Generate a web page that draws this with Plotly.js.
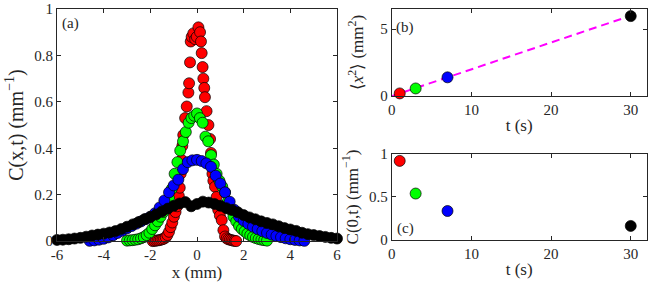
<!DOCTYPE html>
<html>
<head>
<meta charset="utf-8">
<script src="https://cdn.plot.ly/plotly-3.0.1.min.js"></script>
<style>html,body{margin:0;padding:0;background:#fff}#chart{width:654px;height:286px}</style>
</head>
<body>
<div id="chart"></div>
<script>
// ---- Data: C(x,t) profiles (panel a) ----
const redX = [-1.90,-1.83,-1.76,-1.69,-1.62,-1.55,-1.48,-1.41,-1.34,-1.27,-1.20,-1.13,-1.06,-0.99,-0.92,-0.85,-0.78,-0.74,-0.70,-0.66,-0.63,-0.59,-0.51,-0.44,-0.37,-0.34,-0.30,-0.27,-0.23,-0.16,-0.08,-0.01,0.06,0.13,0.17,0.20,0.24,0.27,0.31,0.34,0.41,0.49,0.56,0.60,0.63,0.66,0.70,0.77,0.84,0.91,0.98,1.06,1.13,1.20,1.27,1.34,1.41,1.48,1.55,1.62,1.68];
const redY = [0.000,0.001,0.002,0.003,0.004,0.006,0.008,0.011,0.016,0.026,0.040,0.060,0.080,0.105,0.125,0.150,0.195,0.230,0.290,0.350,0.410,0.457,0.530,0.580,0.640,0.680,0.770,0.860,0.880,0.895,0.870,0.880,0.921,0.900,0.860,0.810,0.750,0.700,0.660,0.620,0.560,0.500,0.440,0.380,0.330,0.290,0.260,0.234,0.190,0.134,0.110,0.090,0.047,0.020,0.012,0.008,0.006,0.004,0.002,0.001,0.000];

const greenX = [-3.00,-2.88,-2.76,-2.64,-2.52,-2.40,-2.28,-2.16,-2.04,-1.92,-1.80,-1.68,-1.56,-1.44,-1.32,-1.20,-1.08,-0.96,-0.84,-0.72,-0.60,-0.48,-0.36,-0.24,-0.12,0.00,0.12,0.24,0.36,0.48,0.60,0.72,0.84,0.96,1.08,1.20,1.32,1.44,1.56,1.68,1.80,1.92,2.04,2.16,2.28,2.40,2.52,2.64,2.76,2.88,3.00];
const greenY = [0.002,0.003,0.004,0.006,0.008,0.012,0.017,0.026,0.036,0.052,0.068,0.085,0.105,0.125,0.152,0.185,0.225,0.290,0.340,0.390,0.430,0.470,0.510,0.530,0.540,0.550,0.530,0.510,0.450,0.430,0.370,0.330,0.290,0.260,0.235,0.210,0.170,0.135,0.105,0.085,0.065,0.052,0.042,0.032,0.025,0.018,0.013,0.009,0.006,0.004,0.002];

const blueX = [-4.6,-4.4,-4.2,-4.0,-3.8,-3.6,-3.4,-3.2,-3.0,-2.8,-2.6,-2.4,-2.2,-2.0,-1.8,-1.6,-1.4,-1.2,-1.0,-0.8,-0.6,-0.4,-0.2,0.0,0.2,0.4,0.6,0.8,1.0,1.2,1.4,1.6,1.8,2.0,2.2,2.4,2.6,2.8,3.0,3.2,3.4,3.6,3.8,4.0,4.2,4.4,4.6];
const blueY = [0.001,0.003,0.006,0.010,0.016,0.025,0.035,0.045,0.055,0.065,0.075,0.085,0.095,0.105,0.120,0.145,0.175,0.210,0.240,0.265,0.310,0.340,0.348,0.350,0.345,0.335,0.320,0.282,0.248,0.210,0.170,0.135,0.105,0.088,0.074,0.062,0.052,0.043,0.035,0.028,0.022,0.017,0.012,0.008,0.005,0.003,0.001];

const blackX = [-6.00,-5.75,-5.50,-5.25,-5.00,-4.75,-4.50,-4.25,-4.00,-3.75,-3.50,-3.25,-3.00,-2.75,-2.50,-2.25,-2.00,-1.75,-1.50,-1.25,-1.00,-0.75,-0.50,-0.25,0.00,0.25,0.50,0.75,1.00,1.25,1.50,1.75,2.00,2.25,2.50,2.75,3.00,3.25,3.50,3.75,4.00,4.25,4.50,4.75,5.00,5.25,5.50,5.75,6.00];
const blackY = [0.005,0.006,0.008,0.011,0.014,0.019,0.024,0.028,0.032,0.037,0.043,0.052,0.062,0.072,0.082,0.094,0.104,0.115,0.128,0.140,0.152,0.162,0.168,0.150,0.160,0.170,0.166,0.160,0.152,0.142,0.134,0.124,0.112,0.102,0.094,0.085,0.078,0.072,0.064,0.056,0.050,0.044,0.036,0.030,0.026,0.022,0.018,0.014,0.011];

// ---- Data: panels (b) and (c) ----
const times = [1, 3, 7, 30];
const msd = [0.2, 0.57, 1.4, 5.97];
const peakC = [0.92, 0.54, 0.337, 0.163];
const seriesColors = ['#ff0000', '#00ff00', '#0000ff', '#000000'];
const fitT = [0, 30];
const fitMsd = [0, 6.0];

// ---- Tick labels ----
const xTickVals = [-6, -4, -2, 0, 2, 4, 6];
const xTickText = ['-6', '-4', '-2', '0', '2', '4', '6'];
const yTickVals = [0, 0.2, 0.4, 0.6, 0.8, 1];
const yTickText = ['0', '0.2', '0.4', '0.6', '0.8', '1'];
const tTickVals = [0, 10, 20, 30];
const msdTickVals = [0, 5];
const cTickVals = [0, 0.5, 1];
const cTickText = ['0', '0.5', '1'];

const FONT = 'Liberation Serif';
const AX = '#262626';

function prof(x, y, c) {
  return {x: x, y: y, type: 'scatter', mode: 'markers', xaxis: 'x', yaxis: 'y',
    cliponaxis: false,
    marker: {color: c, size: 11, line: {color: '#000', width: 0.7}}, showlegend: false, hoverinfo: 'skip'};
}

const traces = [
  prof(redX, redY, seriesColors[0]),
  prof(greenX, greenY, seriesColors[1]),
  prof(blueX, blueY, seriesColors[2]),
  prof(blackX, blackY, seriesColors[3]),
  {x: fitT, y: fitMsd, type: 'scatter', mode: 'lines', xaxis: 'x2', yaxis: 'y2',
    line: {color: '#ff00ff', width: 2, dash: '8px,5px'}, showlegend: false, hoverinfo: 'skip'},
  {x: times, y: msd, type: 'scatter', mode: 'markers', xaxis: 'x2', yaxis: 'y2', cliponaxis: false,
    marker: {color: seriesColors, size: 11, line: {color: '#000', width: 0.7}}, showlegend: false, hoverinfo: 'skip'},
  {x: times, y: peakC, type: 'scatter', mode: 'markers', xaxis: 'x3', yaxis: 'y3', cliponaxis: false,
    marker: {color: seriesColors, size: 11, line: {color: '#000', width: 0.7}}, showlegend: false, hoverinfo: 'skip'}
];

function axis(extra) {
  return Object.assign({
    showline: true, mirror: 'ticks', linecolor: AX, linewidth: 1,
    ticks: 'inside', ticklen: 4, tickcolor: AX, tickwidth: 1,
    showgrid: false, zeroline: false,
    tickfont: {family: FONT, size: 15, color: AX},
    automargin: false, fixedrange: true
  }, extra);
}

const TF = {family: FONT, size: 17, color: AX};
const TFA = {family: FONT, size: 20, color: AX};

const layout = {
  width: 654, height: 286,
  margin: {l: 0, r: 0, t: 0, b: 0},
  paper_bgcolor: '#fff', plot_bgcolor: '#fff',
  font: {family: FONT, color: AX},
  showlegend: false,
  xaxis: axis({domain: [0.0872, 0.5153], range: [-6, 6], anchor: 'y',
    tickmode: 'array', tickvals: xTickVals, ticktext: xTickText,
    title: {text: 'x (mm)', font: TF, standoff: 2}}),
  yaxis: axis({domain: [0.157, 0.9685], range: [0, 1], anchor: 'x',
    tickmode: 'array', tickvals: yTickVals, ticktext: yTickText,
    title: {text: 'C(x,t) (mm<sup>−1</sup>)', font: TFA, standoff: 5}}),
  xaxis2: axis({domain: [0.599, 0.9888], range: [0, 32], anchor: 'y2',
    tickmode: 'array', tickvals: tTickVals,
    title: {text: 't (s)', font: TF, standoff: 2}}),
  yaxis2: axis({domain: [0.664, 0.9685], range: [0, 6.5], anchor: 'x2',
    tickmode: 'array', tickvals: msdTickVals,
    title: {text: '⟨<i>x</i><sup>2</sup>⟩ (mm<sup>2</sup>)', font: TF, standoff: 12}}),
  xaxis3: axis({domain: [0.599, 0.9888], range: [0, 32], anchor: 'y3',
    tickmode: 'array', tickvals: tTickVals,
    title: {text: 't (s)', font: TF, standoff: 2}}),
  yaxis3: axis({domain: [0.161, 0.4615], range: [0, 1], anchor: 'x3',
    tickmode: 'array', tickvals: cTickVals, ticktext: cTickText,
    title: {text: 'C(0,t) (mm<sup>−1</sup>)', font: TF, standoff: 6}}),
  annotations: [
    {text: '(a)', xref: 'paper', yref: 'paper', x: 0.0917, y: 0.955, xanchor: 'left', yanchor: 'top', showarrow: false, font: {family: FONT, size: 15, color: AX}},
    {text: '(b)', xref: 'paper', yref: 'paper', x: 0.6025, y: 0.94, xanchor: 'left', yanchor: 'top', showarrow: false, font: {family: FONT, size: 15, color: AX}},
    {text: '(c)', xref: 'paper', yref: 'paper', x: 0.6035, y: 0.165, xanchor: 'left', yanchor: 'bottom', showarrow: false, font: {family: FONT, size: 15, color: AX}}
  ]
};

Plotly.newPlot('chart', traces, layout, {staticPlot: true, displayModeBar: false});
</script>
</body>
</html>
